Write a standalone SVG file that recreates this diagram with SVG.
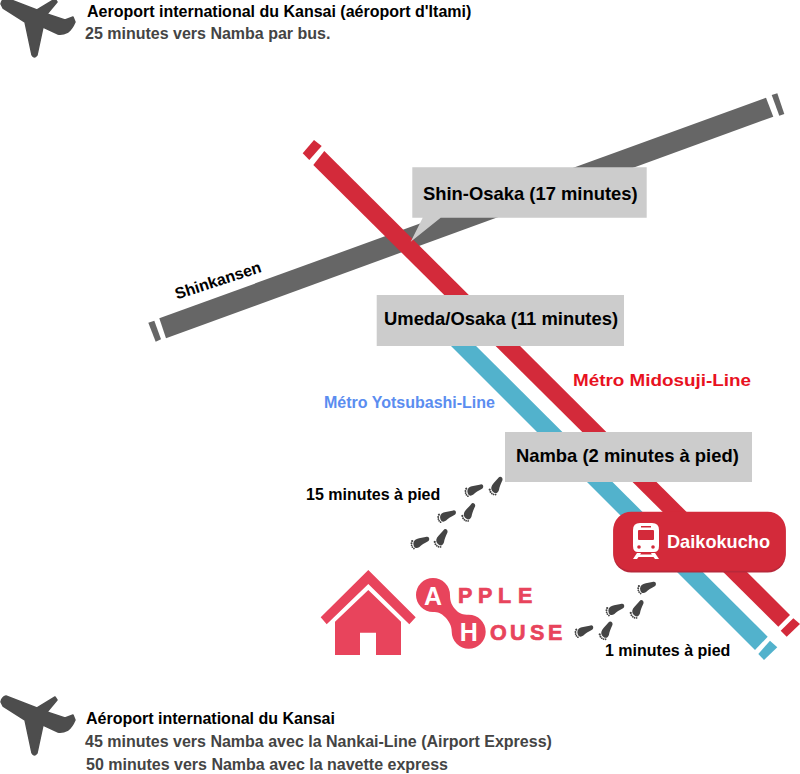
<svg xmlns="http://www.w3.org/2000/svg" xmlns:xlink="http://www.w3.org/1999/xlink" width="800" height="774" viewBox="0 0 800 774">
  <style>
    text { font-family: "Liberation Sans", Arial, sans-serif; font-weight: 700; }
    .head { font-size: 16px; fill: #000; }
    .sub { font-size: 16px; fill: #444; }
    .walk { font-size: 16px; fill: #000; }
    .station { font-size: 18.4px; fill: #000; }
    .grey { fill: #666; }
    .red { fill: #d32a3a; }
    .blue { fill: #52b2cc; }
    .box { fill: #ccc; }
    .logo { fill: #e8445c; }
    .brand { font-size: 21.5px; fill: #e8445c; stroke: #e8445c; stroke-width: 0.7px; }
    .brandcap { font-size: 25px; fill: #fff; text-anchor: middle; }
  </style>
  <defs>
    <path id="plane" fill="#4d4d4d" stroke="#4d4d4d" stroke-width="1.500" stroke-linejoin="round" d="M1 702Q2 697 6 696L37 708L55 697L57 700L47 712L65 718L73 715L75 720Q72 727 68 730Q62 733 58 732L43 725L37 753Q34 757 32 753L25 720L3 706Z"/>
    <g id="foot" fill="#444">
      <path d="M8 -3.200C10.600 -3.200 10.600 0.800 8 1.400C4 2 0.500 3 -2 4.200C-5 5.200 -7 4 -7 1C-7 -2 -5 -4 -2 -4.200C1 -4.400 5 -3.200 8 -3.200Z"/>
      <circle cx="-7" cy="-3.600" r="1.100"/>
      <circle cx="-8.400" cy="-1.700" r="1"/>
      <circle cx="-8.900" cy="0.300" r="0.900"/>
      <circle cx="-8.700" cy="2.200" r="0.900"/>
      <circle cx="-7.700" cy="4" r="0.900"/>
    </g>
  </defs>

  <g id="connectors">
    <g id="shinkansen-line" class="grey">
      <polygon points="148.300,322.700 154.300,320.700 161,339.300 155.700,341.700"/>
      <polygon points="159.300,318.300 766,97.700 773.300,116.700 166,338.300"/>
      <polygon points="771.700,95 777.300,93.300 784.300,114 779.300,115.700"/>
    </g>
    <g id="yotsubashi-line" class="blue">
      <polygon points="445,340 470,340 767.700,636.700 755,650"/>
      <polygon points="770,640.700 777.300,647.300 764,660 758.300,654"/>
    </g>
    <g id="midosuji-line" class="red">
      <polygon points="302.700,153.300 314,140 321.700,146 309.300,160"/>
      <polygon points="324.300,151 790,615 778.300,626.700 313.300,165"/>
      <polygon points="793.300,618.300 800,624 786.700,636.700 780.700,630.700"/>
    </g>
  </g>

  <g id="kansai-itami">
    <use href="#plane" xlink:href="#plane" transform="translate(0 -698)"/>
    <text class="head" x="87" y="17">Aeroport international du Kansai (aéroport d'Itami)</text>
    <text class="sub" x="85" y="39">25 minutes vers Namba par bus.</text>
  </g>

  <g id="shin-osaka">
    <path class="box" d="M412.300 167.300H646.700V217.700H440.700L410.700 241.700L422.700 217.700H412.300Z"/>
    <text class="station" x="423" y="200">Shin-Osaka (17 minutes)</text>
  </g>

  <text id="shinkansen-label" class="walk" transform="translate(177 299.500) rotate(-18)">Shinkansen</text>

  <g id="umeda">
    <rect class="box" x="376.700" y="295" width="247.300" height="51"/>
    <text class="station" x="384" y="325">Umeda/Osaka (11 minutes)</text>
  </g>

  <text id="midosuji-label" x="573" y="386" font-size="16.500" fill="#e8121f" textLength="178" lengthAdjust="spacingAndGlyphs">Métro Midosuji-Line</text>
  <text id="yotsubashi-label" x="324" y="408" font-size="16" fill="#5b8df0">Métro Yotsubashi-Line</text>

  <g id="namba">
    <rect class="box" x="505" y="432" width="247" height="50"/>
    <text class="station" x="516" y="462">Namba (2 minutes à pied)</text>
  </g>

  <g id="walk-namba">
    <text class="walk" x="306" y="500">15 minutes à pied</text>
    <use href="#foot" xlink:href="#foot" transform="translate(474 490) rotate(-18)"/>
    <use href="#foot" xlink:href="#foot" transform="translate(496.700 486) rotate(-55)"/>
    <use href="#foot" xlink:href="#foot" transform="translate(446.700 516) rotate(-18)"/>
    <use href="#foot" xlink:href="#foot" transform="translate(469.300 512.300) rotate(-55)"/>
    <use href="#foot" xlink:href="#foot" transform="translate(420 542.300) rotate(-18)"/>
    <use href="#foot" xlink:href="#foot" transform="translate(441.700 538.300) rotate(-55)"/>
  </g>

  <g id="daikokucho">
    <rect x="613.300" y="513" width="172.400" height="59.500" rx="18" fill="#b8283a"/>
    <rect class="red" x="613.300" y="511.700" width="172.400" height="59" rx="18"/>
    <g id="train-icon">
      <path fill="#fff" fill-rule="evenodd" d="M640 523H652Q659 523 659 530V546Q659 552 654 552H638Q633 552 633 546V530Q633 523 640 523ZM638 531V539Q638 540 639 540H653Q654 540 654 539V531Q654 530 653 530H639Q638 530 638 531ZM641 526V527.500H651V526Z"/>
      <circle cx="639" cy="547" r="1.800" fill="#d32a3a"/>
      <circle cx="653" cy="547" r="1.800" fill="#d32a3a"/>
      <path fill="#fff" d="M637 553H641L640.200 554.500H651.800L651 553H655L659 559H655L653.500 557H638.500L637 559H633Z"/>
    </g>
    <text x="667" y="548" font-size="18.500" fill="#fff" textLength="103" lengthAdjust="spacingAndGlyphs" font-family="Open Sans">Daikokucho</text>
  </g>

  <g id="apple-house">
    <path class="logo" d="M368.300 570L415.700 617.300L409.300 624.300L368.300 584L326.700 624.300L320.700 617.300Z"/>
    <path class="logo" fill-rule="evenodd" d="M368.300 590L401 621.700V655H376V632.700H360V655H335V621.700Z"/>
    <path class="logo" d="M433 578A17 17 0 0 1 450 595C450 602 452 606 456 610C459 613.500 463 614.700 468.700 614.700A17 17 0 1 1 451.700 631.700C451.700 626 449 621 445 617C441 613 438 612 433 612A17 17 0 0 1 433 578Z"/>
    <text class="brandcap" x="433" y="605">A</text>
    <text class="brandcap" x="468.700" y="641">H</text>
    <text class="brand" x="458 478 498 518" y="603.300">PPLE</text>
    <text class="brand" x="490 510 530 548" y="640">OUSE</text>
  </g>

  <g id="walk-daikokucho">
    <text class="walk" x="605" y="656">1 minutes à pied</text>
    <use href="#foot" xlink:href="#foot" transform="translate(646.700 587.300) rotate(-18)"/>
    <use href="#foot" xlink:href="#foot" transform="translate(615 609.300) rotate(-18)"/>
    <use href="#foot" xlink:href="#foot" transform="translate(637.700 609.300) rotate(-55)"/>
    <use href="#foot" xlink:href="#foot" transform="translate(606.700 630.700) rotate(-55)"/>
    <use href="#foot" xlink:href="#foot" transform="translate(584 631) rotate(-18)"/>
  </g>

  <g id="kansai">
    <use href="#plane" xlink:href="#plane"/>
    <text class="head" x="86" y="724">Aéroport international du Kansai</text>
    <text class="sub" x="85" y="747">45 minutes vers Namba avec la Nankai-Line (Airport Express)</text>
    <text class="sub" x="86" y="770">50 minutes vers Namba avec la navette express</text>
  </g>
</svg>
